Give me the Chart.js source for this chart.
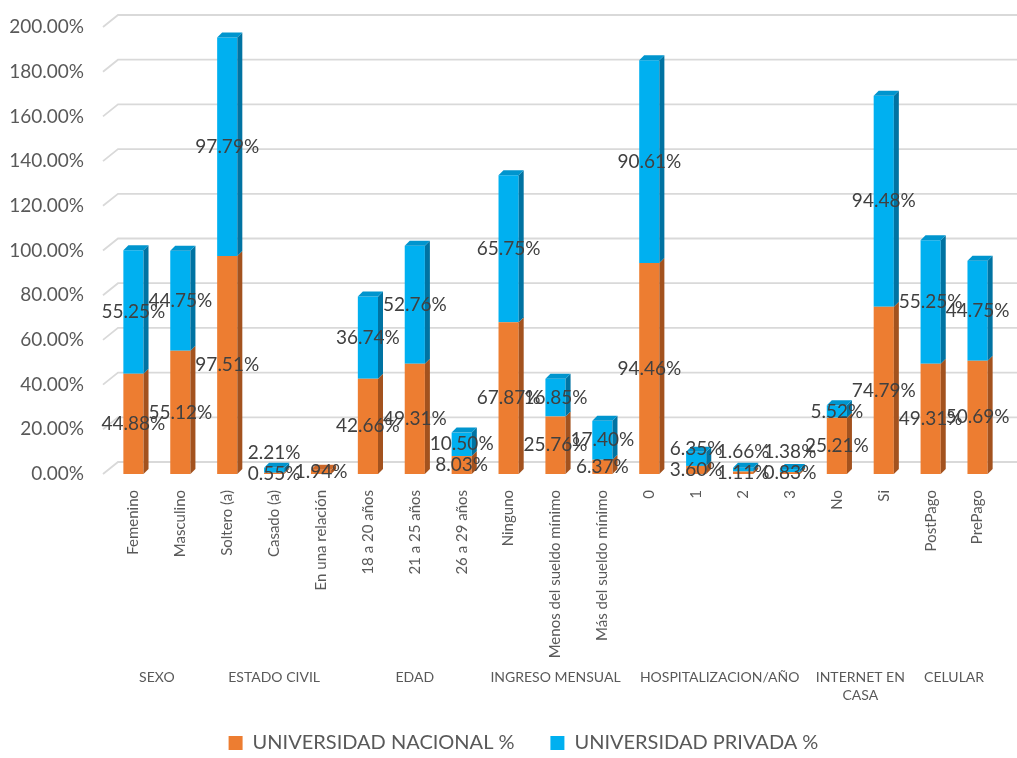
<!DOCTYPE html>
<html>
<head>
<meta charset="utf-8">
<script src="https://cdn.jsdelivr.net/npm/chart.js@4.4.1/dist/chart.umd.min.js"></script>
<style>
  html, body { margin: 0; padding: 0; background: #ffffff; }
</style>
</head>
<body>
<canvas id="myChart" width="1017" height="758"></canvas>
<script>
const categories = ["Femenino", "Masculino", "Soltero (a)", "Casado (a)", "En una relación",
  "18 a 20 años", "21 a 25 años", "26 a 29 años", "Ninguno", "Menos del sueldo mínimo",
  "Más del sueldo mínimo", "0", "1", "2", "3", "No", "Si", "PostPago", "PrePago"];
const nacional = [44.88, 55.12, 97.51, 0.55, 1.94, 42.66, 49.31, 8.03, 67.87, 25.76,
  6.37, 94.46, 3.60, 1.11, 0.83, 25.21, 74.79, 49.31, 50.69];
const privada = [55.25, 44.75, 97.79, 2.21, 0, 36.74, 52.76, 10.50, 65.75, 16.85,
  17.40, 90.61, 6.35, 1.66, 1.38, 5.52, 94.48, 55.25, 44.75];
const groupNames = ["SEXO", "ESTADO CIVIL", "EDAD", "INGRESO MENSUAL", "HOSPITALIZACION/AÑO", "INTERNET EN\nCASA", "CELULAR"];
const groupSizes = [2, 3, 3, 3, 4, 2, 2];

const FONT = "Lato, 'Open Sans', sans-serif";
const depth = 5;
const sideColors = ['#A3521E', '#0073A2'];
const topColors = ['#CC6829', '#0095CE'];

// fake 3d: back wall gridlines, bar sides and tops
const bars3d = {
  id: 'bars3d',
  beforeDatasetsDraw(chart) {
    const { ctx, chartArea, scales: { y } } = chart;
    ctx.save();
    ctx.strokeStyle = '#D9D9D9';
    ctx.lineWidth = 1.8;
    y.ticks.forEach(t => {
      const py = y.getPixelForValue(t.value);
      ctx.beginPath();
      ctx.moveTo(chartArea.left - 7, py);
      ctx.lineTo(chartArea.left + 8, py - 12);
      ctx.lineTo(chart.width, py - 12);
      ctx.stroke();
    });
    ctx.restore();
  },
  afterDatasetsDraw(chart) {
    const ctx = chart.ctx;
    ctx.save();
    chart.data.datasets.forEach((ds, i) => {
      chart.getDatasetMeta(i).data.forEach((bar, j) => {
        if (!ds.data[j]) return;
        const { x, y, base, width } = bar.getProps(['x', 'y', 'base', 'width'], true);
        const x1 = x + width / 2, x0 = x - width / 2;
        ctx.fillStyle = sideColors[i];
        ctx.beginPath();
        ctx.moveTo(x1, base);
        ctx.lineTo(x1 + depth, base - depth);
        ctx.lineTo(x1 + depth, y - depth);
        ctx.lineTo(x1, y);
        ctx.closePath();
        ctx.fill();
        const isTop = i === 1 || !chart.data.datasets[1].data[j];
        if (isTop) {
          ctx.fillStyle = topColors[i];
          ctx.beginPath();
          ctx.moveTo(x0, y);
          ctx.lineTo(x0 + depth, y - depth);
          ctx.lineTo(x1 + depth, y - depth);
          ctx.lineTo(x1, y);
          ctx.closePath();
          ctx.fill();
        }
      });
    });
    ctx.restore();
  }
};

const valueLabels = {
  id: 'valueLabels',
  afterDraw(chart) {
    const ctx = chart.ctx;
    ctx.save();
    ctx.font = "19px " + FONT;
    ctx.fillStyle = '#404040';
    ctx.textAlign = 'center';
    ctx.textBaseline = 'middle';
    const m0 = chart.getDatasetMeta(0).data, m1 = chart.getDatasetMeta(1).data;
    categories.forEach((c, j) => {
      const a = m0[j], b = m1[j];
      const yA = (a.y + a.base) / 2;
      if (nacional[j]) ctx.fillText(nacional[j].toFixed(2) + '%', a.x, yA);
      if (privada[j]) {
        const yB = Math.min((b.y + b.base) / 2, yA - 21);
        ctx.fillText(privada[j].toFixed(2) + '%', b.x, yB);
      }
    });
    ctx.restore();
  }
};

const groupLabels = {
  id: 'groupLabels',
  afterDraw(chart) {
    const { ctx, scales: { x } } = chart;
    ctx.save();
    ctx.font = "14px " + FONT;
    ctx.fillStyle = '#595959';
    ctx.textAlign = 'center';
    ctx.textBaseline = 'middle';
    let start = 0;
    groupNames.forEach((name, g) => {
      const end = start + groupSizes[g] - 1;
      const cx = (x.getPixelForValue(start) + x.getPixelForValue(end)) / 2;
      name.split('\n').forEach((line, k) => {
        ctx.fillText(line, cx, x.top + 203 + k * 18);
      });
      start = end + 1;
    });
    ctx.restore();
  }
};

// legend sits a little right of centre in the original
const legendShift = {
  id: 'legendShift',
  afterLayout(chart) {
    chart.legend.left += 23;
    chart.legend.right += 23;
  }
};

const ctx = document.getElementById('myChart');
const myChart = new Chart(ctx, {
  type: 'bar',
  data: {
    labels: categories,
    datasets: [
      { label: 'UNIVERSIDAD NACIONAL %', data: nacional, backgroundColor: '#ED7D31' },
      { label: 'UNIVERSIDAD PRIVADA %', data: privada, backgroundColor: '#00B0F0' }
    ]
  },
  options: {
    responsive: false,
    animation: false,
    barPercentage: 0.43,
    categoryPercentage: 1,
    layout: { padding: { top: 27, right: 16, left: 0, bottom: -5 } },
    plugins: {
      legend: {
        position: 'bottom',
        labels: {
          boxWidth: 14,
          boxHeight: 14,
          padding: 0,
          color: '#595959',
          font: { family: FONT, size: 20 },
          generateLabels(chart) {
            const items = Chart.defaults.plugins.legend.labels.generateLabels(chart);
            items[0].text += '       ';
            return items;
          }
        }
      },
      tooltip: { enabled: false }
    },
    scales: {
      x: {
        stacked: true,
        grid: { display: false },
        border: { display: false },
        ticks: {
          autoSkip: false,
          maxRotation: 90,
          minRotation: 90,
          padding: 8,
          color: '#595959',
          font: { family: FONT, size: 15 }
        },
        afterFit(scale) { scale.height = 259; }
      },
      y: {
        stacked: true,
        min: 0,
        max: 200,
        grid: { display: false },
        border: { display: false },
        ticks: {
          stepSize: 20,
          padding: 18,
          color: '#595959',
          font: { family: FONT, size: 19 },
          callback: v => v.toFixed(2) + '%'
        },
        afterFit(scale) {
          scale.width = 110;
          scale.paddingTop = 0;
          scale.paddingBottom = 0;
        }
      }
    }
  },
  plugins: [bars3d, valueLabels, groupLabels, legendShift]
});
</script>
</body>
</html>
